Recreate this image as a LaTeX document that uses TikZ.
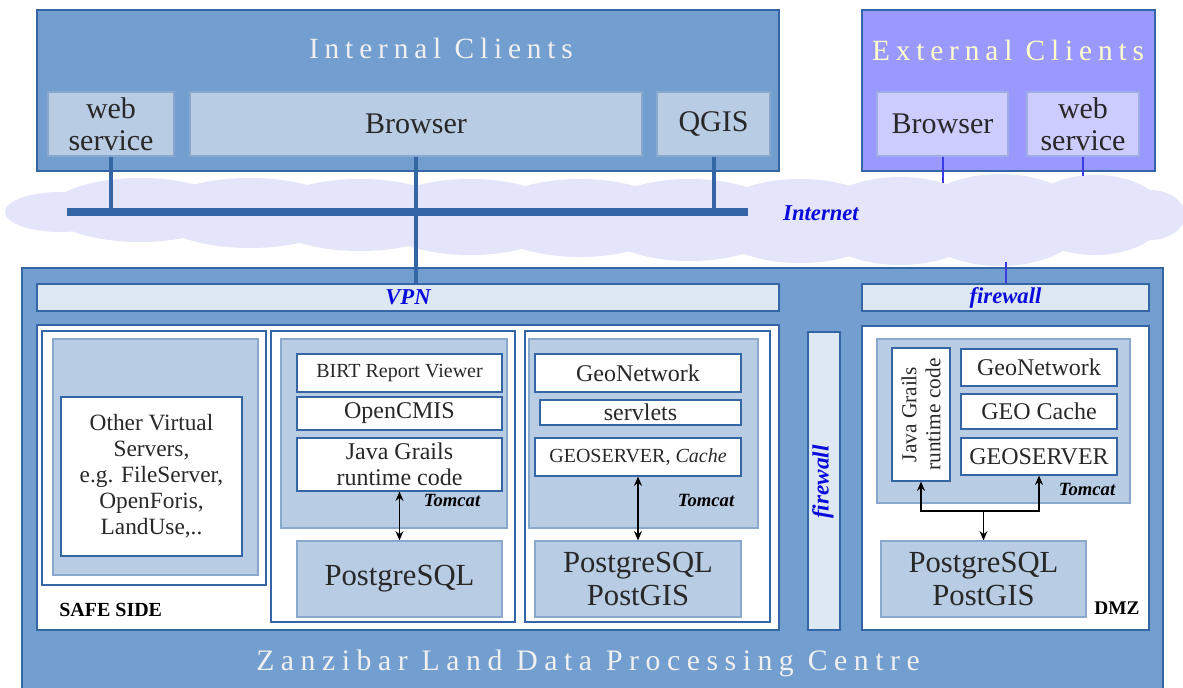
\documentclass[tikz,border=0pt]{standalone}
\usepackage{fontspec}
\setmainfont{Liberation Serif}
\newfontfamily\spaced[LetterSpace=20]{Liberation Serif}
\newfontfamily\wspaced[LetterSpace=22]{Liberation Serif}
\usetikzlibrary{arrows.meta}
\definecolor{midb}{RGB}{114,159,207}
\definecolor{bord}{RGB}{52,101,164}
\definecolor{lightb}{RGB}{184,204,228}
\definecolor{paleb}{RGB}{221,232,243}
\definecolor{extp}{RGB}{153,153,255}
\definecolor{extl}{RGB}{204,204,255}
\definecolor{cloudc}{RGB}{228,228,250}
\definecolor{labb}{RGB}{10,10,220}
\definecolor{cream}{RGB}{255,255,205}
\definecolor{txt}{RGB}{40,40,40}
\newcommand\fsz[2]{\fontsize{#1}{#2}\selectfont}
% \bx{style}{name}{x1}{y1}{x2}{y2}{text}
\newcommand\bx[7]{\node[#1, minimum width={(#5-#3)*0.75pt}, minimum height={(#6-#4)*0.75pt}] (#2) at ({(#3+#5)/2},{(#4+#6)/2}) {#7};}
\begin{document}
\begin{tikzpicture}[x=0.75pt,y=-0.75pt,
  every node/.style={inner sep=0pt, text=txt},
  big/.style={draw=bord, line width=0.9pt, fill=midb},
  ext/.style={draw=bord, line width=0.9pt, fill=extp},
  lb/.style={draw=bord!35!lightb, line width=0.9pt, fill=lightb},
  el/.style={draw=bord!30!extl, line width=0.9pt, fill=extl},
  wb/.style={draw=bord, line width=0.9pt, fill=white},
  pale/.style={draw=bord, line width=0.9pt, fill=paleb},
  client/.style={align=center, font=\fsz{22.5}{24}},
  title/.style={text=white!94!black, font=\spaced\fsz{22}{24}},
  blab/.style={text=labb, font=\bfseries\itshape\fsz{17}{19}},
  tomcat/.style={text=black, font=\bfseries\itshape\fsz{14}{16}},
  bus/.style={draw=bord, line width=3pt},
  thinl/.style={draw=labb!80!white, line width=1.5pt},
  dbl/.style={draw=black, line width=0.9pt, {Stealth[length=7pt,width=6pt]}-{Stealth[length=7pt,width=6pt]}},
  one/.style={draw=black, line width=0.9pt, -{Stealth[length=7pt,width=6pt]}}
]
\useasboundingbox (0,0) rectangle (1183,688);
% cloud
\fill[cloudc] (60,212) ellipse [x radius=55, y radius=20];
\fill[cloudc] (140,210) ellipse [x radius=90, y radius=32];
\fill[cloudc] (250,213) ellipse [x radius=95, y radius=35];
\fill[cloudc] (360,215) ellipse [x radius=95, y radius=36];
\fill[cloudc] (470,217) ellipse [x radius=95, y radius=38];
\fill[cloudc] (580,218) ellipse [x radius=95, y radius=39];
\fill[cloudc] (690,220) ellipse [x radius=95, y radius=41];
\fill[cloudc] (800,221) ellipse [x radius=90, y radius=42];
\fill[cloudc] (900,221) ellipse [x radius=85, y radius=44];
\fill[cloudc] (1000,220) ellipse [x radius=85, y radius=46];
\fill[cloudc] (1095,215) ellipse [x radius=70, y radius=40];
\fill[cloudc] (1150,215) ellipse [x radius=35, y radius=25];

% internal clients
\bx{big}{ic}{37}{10}{779}{171}{}
\node[title] (ict) at (441,48) {Internal Clients};
\bx{lb,client}{iws}{48}{92}{174}{156}{web\\service}
\bx{lb,client}{ib}{190}{92}{642}{156}{Browser}
\bx{lb,client}{iq}{657}{92}{770}{156}{QGIS}

% external clients
\bx{ext}{ec}{862}{10}{1155}{171}{}
\node[title, text=cream] (ect) at (1008,50) {External Clients};
\bx{el,client}{eb}{877}{92}{1008}{156}{Browser}
\bx{el,client}{ews}{1027}{92}{1139}{156}{web\\service}

% internet bus
\coordinate (busL) at (67,212);
\coordinate (busR) at (748,212);
\draw[bus, line width=6pt] (busL) -- (busR);
\draw[bus] (iws.south) -- (iws.south |- busL);
\draw[bus] (iq.south) -- (iq.south |- busL);
\node[blab] (inet) at (821,213) {Internet};
\coordinate (ebEnd) at (942.5,183);
\coordinate (ewsEnd) at (1083,176);
\draw[thinl] (eb.south) -- (ebEnd);
\draw[thinl] (ews.south) -- (ewsEnd);

% data centre
\bx{big}{zc}{22}{268}{1163}{700}{}
\node[title, font=\wspaced\fsz{22.3}{24}] (zct) at (588,663) {Zanzibar Land Data Processing Centre};
\bx{pale}{vpn}{37}{284}{779}{311}{}
\node[blab] at (vpn.center) {VPN};
\bx{pale}{fw}{862}{284}{1149}{311}{}
\node[blab] at (fw.center) {firewall};
\draw[bus] (ib.south) -- (ib.south |- vpn.north);
\coordinate (cloudEnd) at (1006,262);
\draw[thinl] (cloudEnd) -- (cloudEnd |- fw.north);

% safe side
\bx{wb}{safe}{37}{325}{779}{630}{}
\bx{wb}{ov}{42}{331}{266}{585}{}
\bx{lb}{ovin}{53}{339}{258}{575}{}
\bx{wb, align=center, font=\fsz{17.5}{19.5}}{ovt}{61}{397}{242}{556}{Other Virtual\\Servers,\\e.g. FileServer,\\OpenForis,\\LandUse,..}
\node[text=black, font=\bfseries\fsz{15}{17}, anchor=west] (ss) at (59,610) {SAFE SIDE};

% middle server
\bx{wb}{s1}{271}{331}{515}{622}{}
\bx{lb}{t1}{281}{339}{507}{528}{}
\bx{wb, font=\fsz{15}{17}}{birt}{297}{354}{502}{392}{BIRT Report Viewer}
\bx{wb, font=\fsz{18}{20}}{cmis}{297}{397}{502}{430}{OpenCMIS}
\bx{wb, align=center, font=\fsz{18}{19.5}}{jg1}{297}{438}{502}{491}{Java Grails\\runtime code}
\node[tomcat] at (452,500) {Tomcat};
\bx{lb, font=\fsz{23}{25}}{pg1}{297}{541}{502}{617}{PostgreSQL}
\draw[dbl] (jg1.south) -- (pg1.north);

% right server
\bx{wb}{s2}{525}{331}{770}{622}{}
\bx{lb}{t2}{529}{339}{758}{528}{}
\bx{wb, font=\fsz{18}{20}}{gn2}{535}{354}{741}{392}{GeoNetwork}
\bx{wb, font=\fsz{18}{20}}{sv2}{540}{400}{741}{425}{servlets}
\bx{wb, font=\fsz{15}{17}}{gs2}{535}{438}{741}{476}{GEOSERVER, \textit{Cache}}
\node[tomcat] at (706,500) {Tomcat};
\bx{lb, align=center, font=\fsz{23}{24.75}}{pg2}{535}{541}{741}{617}{PostgreSQL\\PostGIS}
\draw[dbl] (gs2.south) -- (pg2.north);

% firewall bar
\bx{pale}{fwv}{808}{332}{840}{630}{}
\node[blab, rotate=90, font=\bfseries\itshape\fsz{17.5}{19}] at (823,482) {firewall};

% DMZ
\bx{wb}{dmz}{862}{326}{1149}{630}{}
\bx{lb}{t3}{877}{339}{1130}{503}{}
\bx{wb}{jg3}{892}{348}{950}{481}{}
\node[rotate=90, align=center, font=\fsz{16}{18}] at (jg3.center) {Java Grails\\runtime code};
\bx{wb, font=\fsz{18}{20}}{gn3}{961}{349}{1117}{386}{GeoNetwork}
\bx{wb, font=\fsz{18}{20}}{gc3}{961}{394}{1117}{429}{GEO Cache}
\bx{wb, font=\fsz{18}{20}}{gs3}{961}{438}{1117}{475}{GEOSERVER}
\node[tomcat] at (1087,489) {Tomcat};
\bx{lb, align=center, font=\fsz{23}{24.75}}{pg3}{881}{541}{1086}{617}{PostgreSQL\\PostGIS}
\node[text=black, font=\bfseries\fsz{14.5}{16}] (dmzt) at (1117,608) {DMZ};
\coordinate (j) at (983.5,511);
\draw[dbl] (jg3.south) -- (jg3.south |- j) -- (gs3.south |- j) -- (gs3.south);
\draw[one] (j) -- (pg3.north);
\end{tikzpicture}
\end{document}
